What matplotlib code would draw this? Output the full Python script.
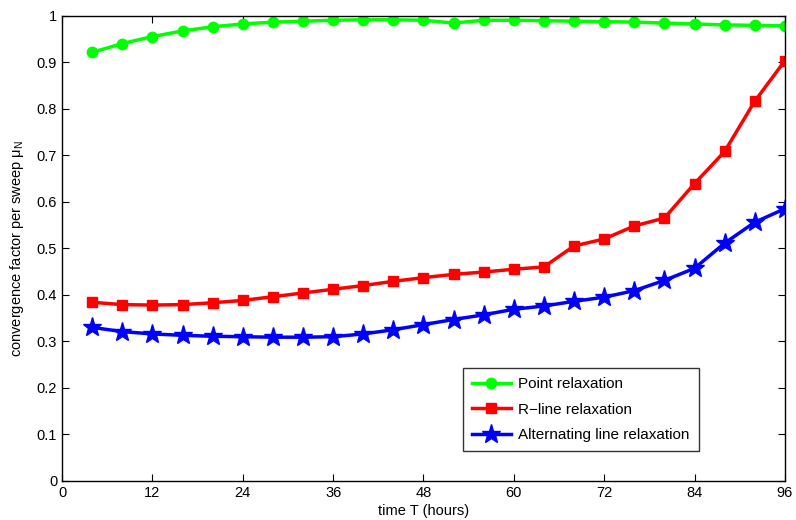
import matplotlib
matplotlib.use("Agg")
import matplotlib.pyplot as plt

plt.rcParams['font.family'] = ['Liberation Sans', 'DejaVu Sans']
plt.rcParams['mathtext.fontset'] = 'custom'
plt.rcParams['mathtext.rm'] = 'Liberation Sans'
plt.rcParams['mathtext.it'] = 'Liberation Sans:italic'

T = [4, 8, 12, 16, 20, 24, 28, 32, 36, 40, 44, 48, 52, 56, 60, 64, 68, 72, 76, 80, 84, 88, 92, 96]
point_relax = [0.921, 0.940, 0.955, 0.967, 0.976, 0.982, 0.986, 0.988, 0.990, 0.991, 0.991, 0.990,
               0.984, 0.990, 0.990, 0.989, 0.988, 0.987, 0.986, 0.984, 0.982, 0.980, 0.979, 0.978]
rline_relax = [0.384, 0.379, 0.378, 0.379, 0.383, 0.388, 0.396, 0.404, 0.412, 0.420, 0.429, 0.437,
               0.444, 0.449, 0.455, 0.460, 0.505, 0.520, 0.548, 0.565, 0.639, 0.708, 0.816, 0.903]
alt_relax = [0.330, 0.321, 0.316, 0.313, 0.311, 0.310, 0.309, 0.309, 0.310, 0.316, 0.325, 0.336,
             0.347, 0.357, 0.369, 0.376, 0.386, 0.395, 0.409, 0.431, 0.457, 0.511, 0.556, 0.585]
labels = ['Point relaxation', 'R\u2212line relaxation', 'Alternating line relaxation']

fig = plt.figure(figsize=(7.96, 5.2), dpi=100)
ax = fig.add_axes([0.078, 0.075, 0.908, 0.895])

ax.plot(T, point_relax, color='#00ff00', lw=2.5, marker='o', ms=7.5, label=labels[0])
ax.plot(T, rline_relax, color='#ff0000', lw=2.5, marker='s', ms=7, label=labels[1])
ax.plot(T, alt_relax, color='#0000ff', lw=2.5, marker='*', ms=14, label=labels[2])

ax.set_xlim(0, 96)
ax.set_ylim(0, 1)
ax.set_xticks(range(0, 97, 12))
ax.set_yticks([i / 10 for i in range(11)])
ax.set_yticklabels(['0', '0.1', '0.2', '0.3', '0.4', '0.5', '0.6', '0.7', '0.8', '0.9', '1'])
ax.tick_params(direction='in', top=True, right=True, labelsize=10.5, length=5, width=0.8)
ax.set_xlabel('time T (hours)', fontsize=10.5, labelpad=3)
ax.set_ylabel('convergence factor per sweep $\\mathrm{\\mu}_\\mathrm{N}$', fontsize=10.5, labelpad=8)
for s in ax.spines.values():
    s.set_linewidth(1.0)

leg = ax.legend(loc='upper left', bbox_to_anchor=(0.555, 0.2425), borderaxespad=0,
                fancybox=False, edgecolor='black', fontsize=11, handlelength=2.5,
                labelspacing=0.75, borderpad=0.6, handletextpad=0.5)
leg.get_frame().set_linewidth(1.0)

fig.savefig('out.png', dpi=100)
